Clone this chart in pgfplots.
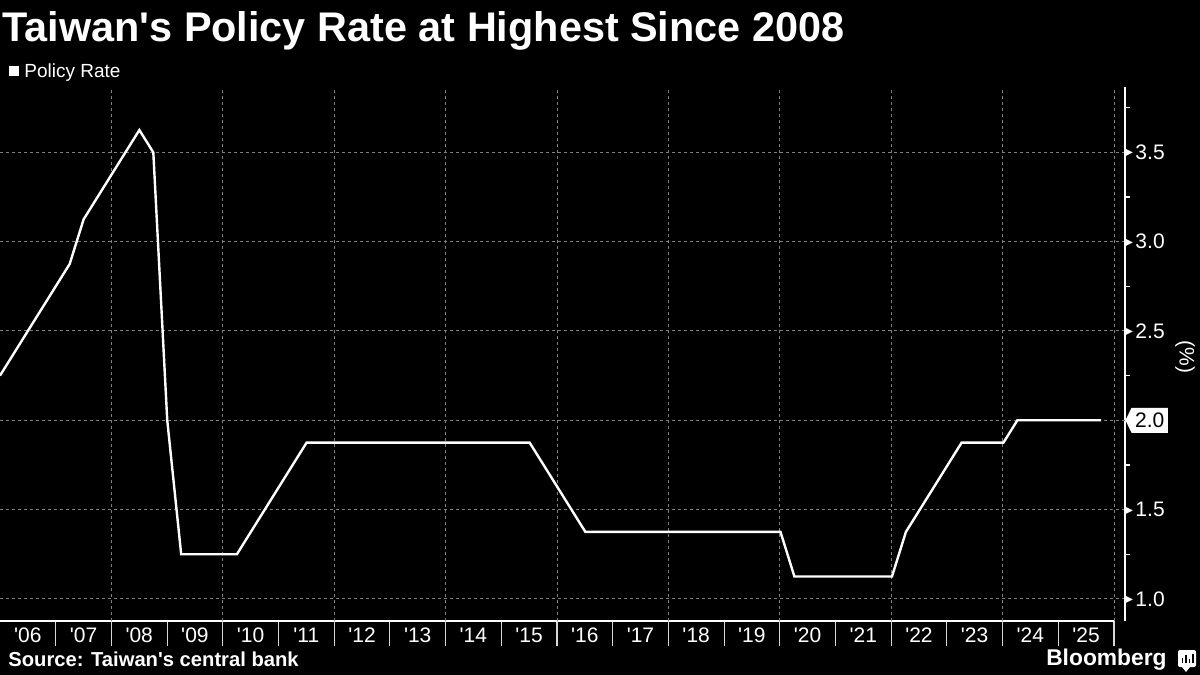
\documentclass[border=0pt]{standalone}
\usepackage{pgfplots}
\pgfplotsset{compat=1.18}
\usepackage{pgfplotstable}
\usepackage{fontspec}
\setmainfont{Liberation Sans}[Ligatures=TeXOff]
\newfontfamily\dejavu{DejaVu Sans}
\usetikzlibrary{shapes.symbols}

\definecolor{gridgray}{RGB}{128,128,128}
\definecolor{tickgray}{RGB}{215,215,215}

% quarter-end policy rate, only the corners of the line
\pgfplotstableread{
year    rate
2006.00 2.250
2007.25 2.875
2007.50 3.125
2008.50 3.625
2008.75 3.500
2009.00 2.000
2009.25 1.250
2010.25 1.250
2011.50 1.875
2015.50 1.875
2016.50 1.375
2020.00 1.375
2020.25 1.125
2022.00 1.125
2022.25 1.375
2023.25 1.875
2024.00 1.875
2024.25 2.000
2025.75 2.000
}\ratetable

\newcommand{\tri}{{\dejavu\fontsize{5}{5}\selectfont\raisebox{1.8pt}{▶}}\hspace{1.2pt}}
\newcommand{\tickfont}{\fontsize{10.5}{12}\selectfont}

\begin{document}
\begin{tikzpicture}
\fill[black] (0,-27pt) rectangle (600pt,310.5pt);
\path[use as bounding box] (0,-27pt) rectangle (600pt,310.5pt);

% x axis, year ticks and two-year grid
\begin{axis}[
    scale only axis, width=557pt, height=267pt,
    xmin=2006, xmax=2026, ymin=0.876, ymax=3.866,
    axis x line*=bottom, axis y line=none,
    x axis line style={white, line width=0.8pt},
    xtick={2006,2007,...,2026},
    x tick label as interval,
    xticklabels={'06,'07,'08,'09,'10,'11,'12,'13,'14,'15,'16,'17,'18,'19,'20,'21,'22,'23,'24,'25},
    major tick length=12.5pt, tick align=outside,
    xtick style={tickgray, line width=0.5pt},
    xticklabel style={white, font=\tickfont, anchor=base, yshift=2pt},
    extra x ticks={2006,2008,...,2026},
    extra x tick labels={},
    extra x tick style={grid=major},
    grid style={gridgray, dash pattern=on 1.5pt off 1.5pt, line width=0.5pt},
]
\end{axis}

% right value axis and the series
\begin{axis}[
    scale only axis, width=562.5pt, height=267pt,
    xmin=2006, xmax=2026.18, ymin=0.876, ymax=3.866,
    axis x line=none, axis y line*=right,
    y axis line style={white, line width=0.8pt},
    ytick={1,1.5,2.5,3,3.5},
    yticklabels={\tri 1.0,\tri 1.5,\tri 2.5,\tri 3.0,\tri 3.5},
    minor ytick={1.25,1.75,2.25,2.75,3.25,3.75},
    major tick length=0pt, minor tick length=2.5pt, tick align=outside,
    ytick style={white, line width=0.6pt},
    ymajorgrids,
    grid style={gridgray, dash pattern=on 1.5pt off 1.5pt, line width=0.5pt},
    yticklabel style={white, font=\tickfont, anchor=west, inner sep=0pt},
    extra y ticks={2},
    extra y tick labels={2.0},
    extra y tick style={grid=major,
        yticklabel style={fill=white, text=black, shape=signal, signal to=west,
            signal pointer angle=128, inner xsep=1.8pt, inner ysep=0pt,
            minimum height=12.5pt, anchor=west}},
]
\addplot[white, line width=1.2pt] table[x=year, y=rate] {\ratetable};
\end{axis}

\node[rotate=-90, white, font=\tickfont] at (592.5pt,132pt) {(\%)};

% title, legend, footer
\node[anchor=base west, inner sep=0pt, white, font=\fontsize{20.7}{24}\selectfont\bfseries]
    at (1pt,289.5pt) {Taiwan's Policy Rate at Highest Since 2008};
\fill[white] (4.5pt,272.5pt) rectangle (9.5pt,277.5pt);
\node[anchor=base west, inner sep=0pt, white, font=\fontsize{9.5}{11}\selectfont]
    at (12pt,271.5pt) {Policy Rate};
\node[anchor=base west, inner sep=0pt, white, font=\fontsize{10.1}{12}\selectfont\bfseries]
    at (4pt,-22.85pt) {Source: Taiwan's central bank};
\node[anchor=base east, inner sep=0pt, white, font=\fontsize{11.4}{13}\selectfont\bfseries]
    at (583.5pt,-22pt) {Bloomberg};
\fill[white, rounded corners=1pt] (589pt,-23pt) rectangle (598pt,-14.5pt);
\fill[white] (591pt,-23pt) -- (593pt,-25.5pt) -- (595pt,-23pt) -- cycle;
\fill[black] (590.8pt,-21pt) rectangle (591.6pt,-18.5pt);
\fill[black] (592.6pt,-21pt) rectangle (593.4pt,-17pt);
\fill[black] (594.4pt,-21pt) rectangle (595.2pt,-19pt);
\fill[black] (596.2pt,-21pt) rectangle (597pt,-16.5pt);
\end{tikzpicture}
\end{document}
